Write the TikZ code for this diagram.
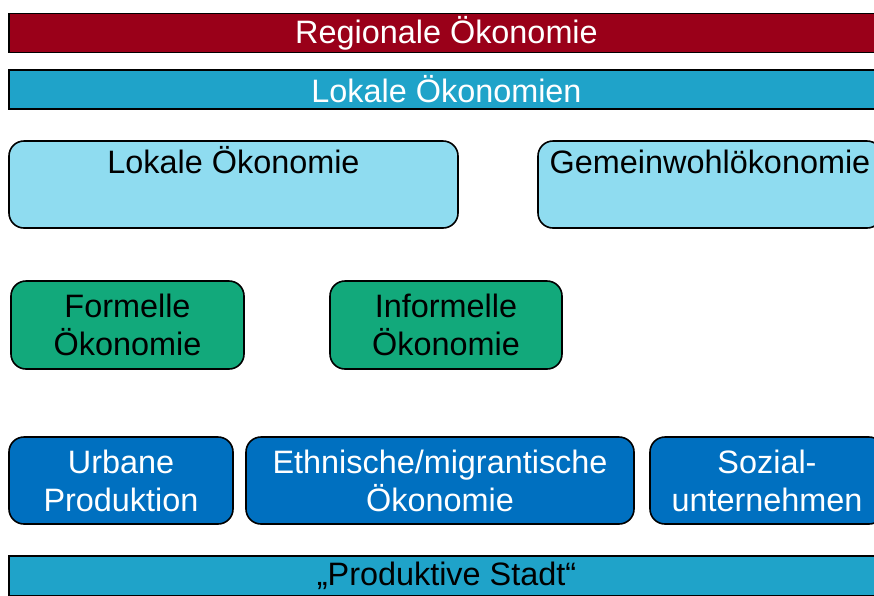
\documentclass[tikz,border=0pt]{standalone}
\usepackage{fontspec}
\setmainfont{Liberation Sans}
\definecolor{regionred}{HTML}{9A0019}
\definecolor{lokalblue}{HTML}{1FA3C9}
\definecolor{paleblue}{HTML}{8FDCF0}
\definecolor{formgreen}{HTML}{12A97B}
\definecolor{deepblue}{HTML}{0070C0}
\tikzset{
    bar/.style = {draw = black, line width = 1.6pt, minimum width = 875pt, minimum height = 39pt, inner sep = 0pt, font = \fontsize{32.4}{38}\selectfont},
    box/.style = {draw = black, line width = 1.6pt, rounded corners = 15pt, inner sep = 0pt, align = center, minimum height = 87pt, font = \fontsize{32.4}{38}\selectfont},
}
\begin{document}
\begin{tikzpicture}[x = 1pt, y = -1pt]
    \useasboundingbox (0,0) rectangle (874,595);
    \clip (0,0) rectangle (874,595);
    \def\ra{184.5}
    \def\rb{325}
    \def\rc{480.5}
    % bars
    \node(region) [bar, fill = regionred, text = white] at (446.5,33) {Regionale Ökonomie};
    \node(lokal) [bar, fill = lokalblue, text = white] at (446.5,89.5) {Lokale Ökonomien};
    \node(stadt) [bar, fill = lokalblue, minimum height = 40pt] at (446.5,576) {„Produktive Stadt“};
    % first row
    \node(lokoek) [box, fill = paleblue, minimum width = 449pt] at (233.5,\ra) {\vphantom{Ö}Lokale Ökonomie\\\strut};
    \node(gemein) [box, fill = paleblue, minimum width = 344pt] at (710,\ra) {\vphantom{Ö}Gemeinwohlökonomie\\\strut};
    % second row
    \node(formell) [box, fill = formgreen, minimum width = 233pt, minimum height = 88pt] at (127.5,\rb) {Formelle\\Ökonomie};
    \node(informell) [box, fill = formgreen, minimum width = 232pt, minimum height = 88pt] at (446,\rb) {Informelle\\Ökonomie};
    % third row
    \node(urban) [box, fill = deepblue, text = white, minimum width = 224pt] at (121,\rc) {Urbane\\Produktion};
    \node(ethno) [box, fill = deepblue, text = white, minimum width = 388pt] at (440,\rc) {Ethnische/migrantische\\Ökonomie};
    \node(sozial) [box, fill = deepblue, text = white, minimum width = 234pt] at (767,\rc) {Sozial-\\unternehmen};
\end{tikzpicture}
\end{document}
